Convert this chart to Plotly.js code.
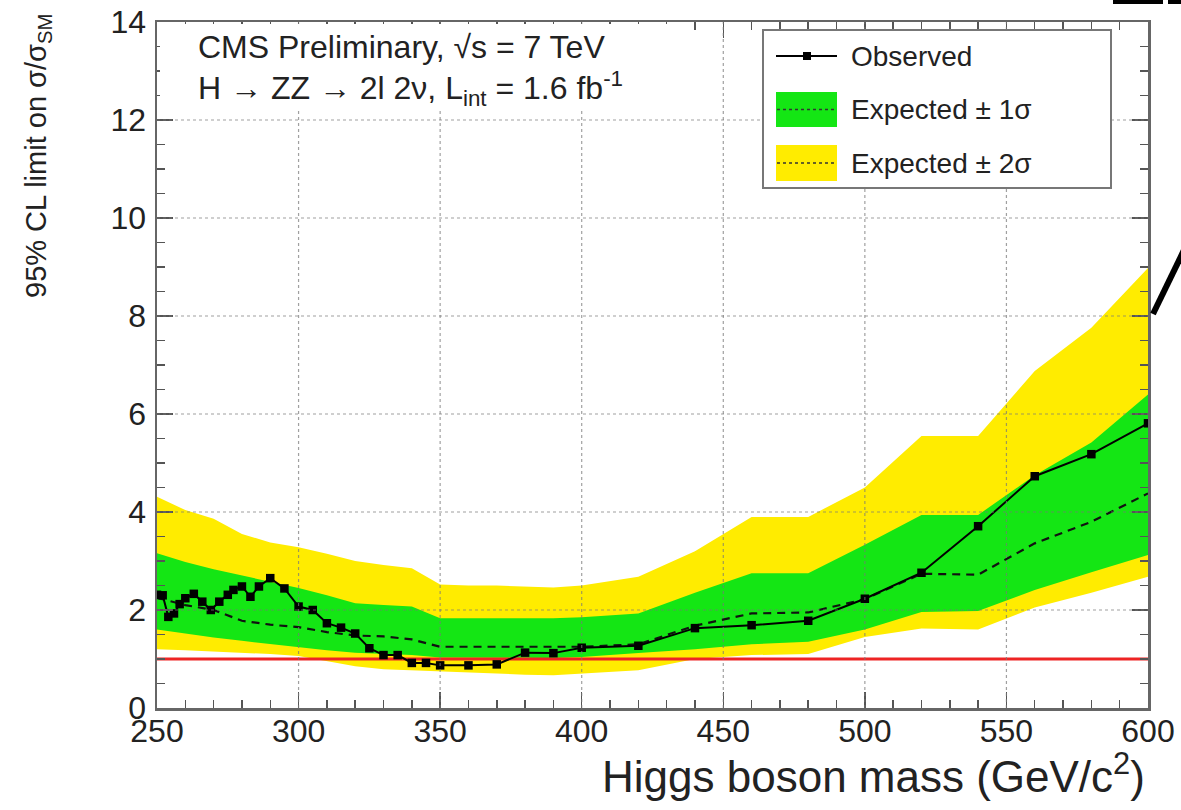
<!DOCTYPE html>
<html>
<head>
<meta charset="utf-8">
<script src="https://cdn.plot.ly/plotly-3.0.1.min.js"></script>
<style>
  html, body { margin: 0; padding: 0; background: #ffffff; }
  #plot { width: 1181px; height: 810px; }
</style>
</head>
<body>
<div id="plot"></div>
<script>
// Observed 95% CL upper limit on sigma/sigma_SM versus Higgs mass
const obsMass = [250, 252, 254, 256, 258, 260, 263, 266, 269, 272,
                 275, 277, 280, 283, 286, 290, 295, 300, 305, 310,
                 315, 320, 325, 330, 335, 340, 345, 350, 360, 370,
                 380, 390, 400, 420, 440, 460, 480, 500, 520, 540,
                 560, 580, 600];
const obsLimit = [2.31, 2.30, 1.86, 1.93, 2.12, 2.24, 2.33, 2.17, 2.00, 2.17,
                  2.31, 2.41, 2.48, 2.27, 2.48, 2.65, 2.44, 2.07, 2.00, 1.73,
                  1.64, 1.52, 1.22, 1.08, 1.08, 0.92, 0.92, 0.87, 0.87, 0.89,
                  1.13, 1.12, 1.23, 1.27, 1.63, 1.69, 1.78, 2.23, 2.76, 3.71,
                  4.73, 5.18, 5.81];

// Expected limit (median) and its 1 and 2 sigma bands
const bandMass  = [250, 260, 270, 280, 290, 300, 310, 320, 330, 340, 350, 360, 370,
                   380, 390, 400, 420, 440, 460, 480, 500, 520, 540, 560, 580, 600];
const expMedian = [2.25, 2.10, 2.00, 1.78, 1.70, 1.65, 1.55, 1.48, 1.46, 1.40, 1.25, 1.25, 1.25,
                   1.25, 1.25, 1.25, 1.30, 1.68, 1.93, 1.95, 2.22, 2.74, 2.72, 3.36, 3.80, 4.38];
const exp1Lo    = [1.60, 1.52, 1.44, 1.37, 1.30, 1.24, 1.18, 1.13, 1.10, 1.08, 1.03, 1.02, 1.02,
                   1.02, 1.02, 1.04, 1.12, 1.20, 1.30, 1.35, 1.60, 1.96, 1.98, 2.41, 2.77, 3.12];
const exp1Hi    = [3.16, 2.98, 2.83, 2.70, 2.58, 2.45, 2.30, 2.14, 2.10, 2.07, 1.83, 1.83, 1.83,
                   1.83, 1.83, 1.85, 1.93, 2.35, 2.75, 2.75, 3.33, 3.94, 3.94, 4.75, 5.42, 6.40];
const exp2Lo    = [1.20, 1.18, 1.16, 1.13, 1.10, 1.06, 0.95, 0.85, 0.79, 0.76, 0.74, 0.72, 0.70,
                   0.68, 0.67, 0.70, 0.77, 1.00, 1.08, 1.10, 1.45, 1.62, 1.60, 2.05, 2.35, 2.68];
const exp2Hi    = [4.31, 4.04, 3.86, 3.55, 3.38, 3.28, 3.15, 3.00, 2.92, 2.85, 2.52, 2.50, 2.50,
                   2.48, 2.46, 2.50, 2.68, 3.20, 3.90, 3.90, 4.50, 5.55, 5.55, 6.88, 7.76, 8.98];

// Standard Model reference (sigma/sigma_SM = 1)
const smRefMass  = [250, 600];
const smRefValue = [1, 1];

// Axis ticks
const xTicks = [250, 300, 350, 400, 450, 500, 550, 600];
const yTicks = [0, 2, 4, 6, 8, 10, 12, 14];

// Text
const legendLabels = ['Observed', 'Expected ± 1σ', 'Expected ± 2σ'];
const headerLines = ['CMS Preliminary, √s = 7 TeV',
                     'H → ZZ → 2l 2ν, L<sub>int</sub> = 1.6 fb<sup>-1</sup>'];
const xTitle = 'Higgs boson mass (GeV/c<sup>2</sup>)';
const yTitle = '95% CL limit on σ/σ<sub>SM</sub>';

const FONT = '"Liberation Sans", Arial, Helvetica, sans-serif';
const YELLOW = '#ffec00';
const GREEN = '#14e614';

// page geometry of the frame
const W = 1181, H = 810;
const M = {l: 157, r: 33, t: 22, b: 102};
const plotW = W - M.l - M.r, plotH = H - M.t - M.b;
const px = x => (x - M.l) / plotW;          // page x -> paper
const py = y => (H - M.b - y) / plotH;      // page y -> paper

function band(lo, hi) {
  return {
    x: bandMass.concat(bandMass.slice().reverse()),
    y: hi.concat(lo.slice().reverse())
  };
}
const b2 = band(exp2Lo, exp2Hi);
const b1 = band(exp1Lo, exp1Hi);

const traces = [
  {x: b2.x, y: b2.y, type: 'scatter', mode: 'lines', fill: 'toself',
   fillcolor: YELLOW, line: {width: 0}, hoverinfo: 'skip', showlegend: false},
  {x: b1.x, y: b1.y, type: 'scatter', mode: 'lines', fill: 'toself',
   fillcolor: GREEN, line: {width: 0}, hoverinfo: 'skip', showlegend: false},
  {x: bandMass, y: expMedian, type: 'scatter', mode: 'lines',
   line: {color: '#111', width: 2.2, dash: '8px,6px'}, showlegend: false},
  {x: smRefMass, y: smRefValue, type: 'scatter', mode: 'lines',
   line: {color: '#ee2424', width: 2.8}, showlegend: false},
  {x: obsMass, y: obsLimit, type: 'scatter', mode: 'lines+markers',
   line: {color: '#000', width: 2}, marker: {symbol: 'square', size: 8.5, color: '#000'},
   showlegend: false}
];

const shapes = [];
// dotted grid drawn over the bands
xTicks.slice(1, -1).forEach(v => shapes.push({type: 'line', xref: 'x', yref: 'paper',
  x0: v, x1: v, y0: 0, y1: 1, layer: 'above',
  line: {color: 'rgba(120,120,120,0.7)', width: 1.2, dash: '3px,3px'}}));
yTicks.slice(1, -1).forEach(v => shapes.push({type: 'line', xref: 'paper', yref: 'y',
  x0: 0, x1: 1, y0: v, y1: v, layer: 'above',
  line: {color: 'rgba(120,120,120,0.7)', width: 1.2, dash: '3px,3px'}}));

// header box
shapes.push({type: 'rect', xref: 'paper', yref: 'paper', layer: 'above',
  x0: px(160), x1: px(690), y0: py(110), y1: py(24),
  fillcolor: '#ffffff', line: {width: 0}});

// legend box
shapes.push({type: 'rect', xref: 'paper', yref: 'paper', layer: 'above',
  x0: px(763), x1: px(1111), y0: py(188), y1: py(30),
  fillcolor: '#ffffff', line: {color: '#777', width: 2}});
// observed sample
shapes.push({type: 'line', xref: 'paper', yref: 'paper', layer: 'above',
  x0: px(776), x1: px(837), y0: py(56), y1: py(56), line: {color: '#000', width: 2}});
shapes.push({type: 'rect', xref: 'paper', yref: 'paper', layer: 'above',
  x0: px(803), x1: px(811), y0: py(60), y1: py(52), fillcolor: '#000', line: {width: 0}});
// band samples
[[92, 127, GREEN], [145, 181, YELLOW]].forEach(([t, b, c]) => {
  shapes.push({type: 'rect', xref: 'paper', yref: 'paper', layer: 'above',
    x0: px(776), x1: px(837), y0: py(b), y1: py(t), fillcolor: c, line: {width: 0}});
  shapes.push({type: 'line', xref: 'paper', yref: 'paper', layer: 'above',
    x0: px(777), x1: px(836), y0: py((t + b) / 2), y1: py((t + b) / 2),
    line: {color: '#333', width: 1.6, dash: '3px,3px'}});
});

// heavy stroke at the right page edge
shapes.push({type: 'line', xref: 'paper', yref: 'paper', layer: 'above',
  x0: px(1153), y0: py(314), x1: px(1185), y1: py(248), line: {color: '#000', width: 6}});
shapes.push({type: 'rect', xref: 'paper', yref: 'paper', layer: 'above',
  x0: px(1113), x1: px(1163), y0: py(4), y1: py(-2), fillcolor: '#000', line: {width: 0}});
shapes.push({type: 'rect', xref: 'paper', yref: 'paper', layer: 'above',
  x0: px(1168), x1: px(1185), y0: py(4), y1: py(-2), fillcolor: '#000', line: {width: 0}});

const annotations = [];
headerLines.forEach((t, i) => annotations.push({
  text: t, xref: 'paper', yref: 'paper', x: px(196), y: py(i === 0 ? 47 : 88),
  xanchor: 'left', yanchor: 'middle', showarrow: false,
  font: {family: FONT, size: 32, color: '#222'}}));
legendLabels.forEach((t, i) => annotations.push({
  text: t, xref: 'paper', yref: 'paper', x: px(849), y: py([56, 109.5, 163][i]),
  xanchor: 'left', yanchor: 'middle', showarrow: false,
  font: {family: FONT, size: 28, color: '#222'}}));
annotations.push({text: xTitle, xref: 'paper', yref: 'paper', x: px(1147), y: py(774),
  xanchor: 'right', yanchor: 'middle', showarrow: false,
  font: {family: FONT, size: 44, color: '#222'}});
annotations.push({text: yTitle, xref: 'paper', yref: 'paper', x: px(38), y: py(12),
  xanchor: 'center', yanchor: 'top', textangle: -90, showarrow: false,
  font: {family: FONT, size: 29, color: '#222'}});

const axisCommon = {
  showline: true, linecolor: '#666', linewidth: 2.5, mirror: 'allticks',
  ticks: 'inside', ticklen: 16, tickwidth: 1.5, tickcolor: '#555',
  showgrid: false, zeroline: false,
  tickfont: {family: FONT, size: 32, color: '#222'}
};

const layout = {
  width: W, height: H,
  margin: M,
  paper_bgcolor: '#ffffff', plot_bgcolor: '#ffffff',
  showlegend: false,
  xaxis: Object.assign({}, axisCommon, {
    range: [250, 600], tickvals: xTicks, ticktext: xTicks.map(String), ticklabelstandoff: -7,
    minor: {dtick: 10, ticks: 'inside', ticklen: 8, tickcolor: '#555', showgrid: false}
  }),
  yaxis: Object.assign({}, axisCommon, {
    range: [0, 14], tickvals: yTicks, ticktext: yTicks.map(String), ticklabelstandoff: 2,
    minor: {dtick: 0.5, ticks: 'inside', ticklen: 8, tickcolor: '#555', showgrid: false}
  }),
  shapes: shapes,
  annotations: annotations
};

Plotly.newPlot('plot', traces, layout, {staticPlot: true, displayModeBar: false});
</script>
</body>
</html>
